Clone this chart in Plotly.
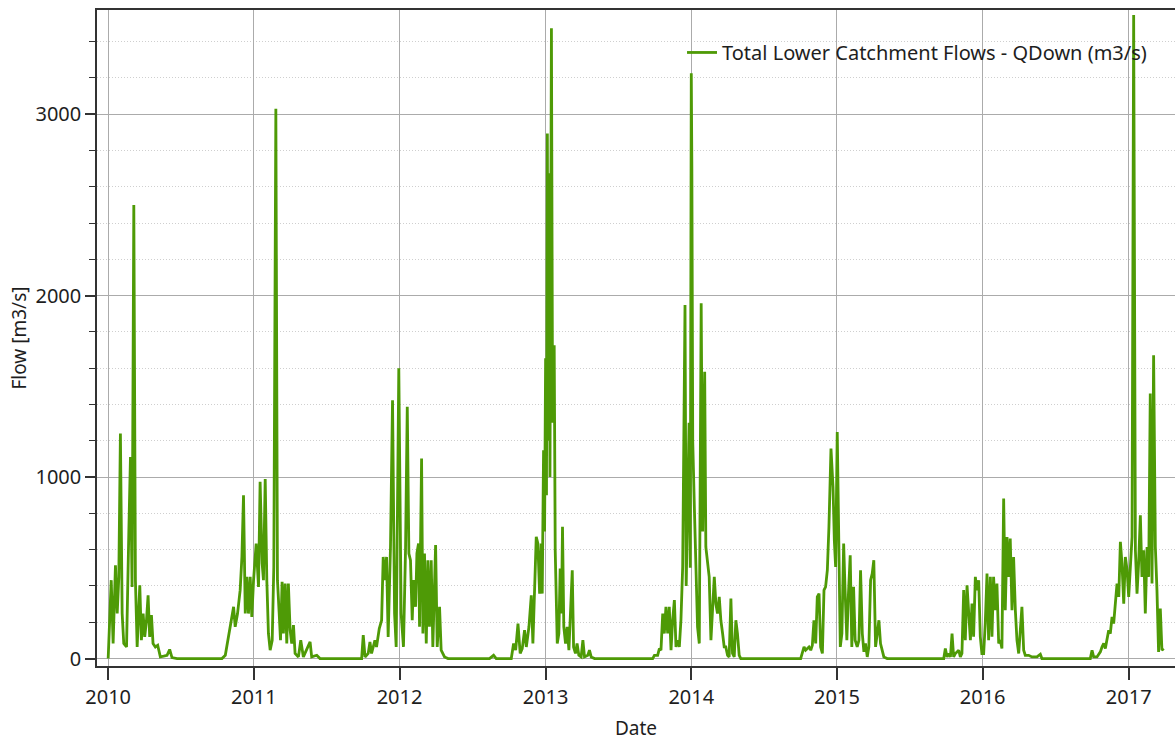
import pandas as pd
import plotly.graph_objects as go

# Total lower-catchment flow (m3/s), read per wet season.
# Times are decimal years; each season starts and ends on the dry-season base flow of 0.
t_0910 = [2010.000, 2010.021, 2010.034, 2010.050, 2010.062, 2010.073, 2010.084, 2010.096, 2010.107, 2010.126,
          2010.142, 2010.153, 2010.164, 2010.176, 2010.187, 2010.199, 2010.217, 2010.228, 2010.240, 2010.251,
          2010.263, 2010.274, 2010.285, 2010.297, 2010.308, 2010.324, 2010.340, 2010.358, 2010.381, 2010.404,
          2010.422, 2010.438, 2010.473]
q_0910 = [0, 432, 83, 514, 248, 450, 1240, 248, 83, 64,
          707, 1111, 395, 2500, 432, 64, 404, 101, 248, 119,
          211, 349, 119, 239, 83, 64, 73, 9, 13, 18,
          50, 5, 0]

t_1011 = [2010.781, 2010.804, 2010.826, 2010.842, 2010.861, 2010.872, 2010.888, 2010.906, 2010.918, 2010.929,
          2010.941, 2010.952, 2010.963, 2010.975, 2010.986, 2010.998, 2011.016, 2011.032, 2011.043, 2011.057,
          2011.066, 2011.078, 2011.089, 2011.100, 2011.112, 2011.126, 2011.137, 2011.151, 2011.162, 2011.174,
          2011.183, 2011.194, 2011.203, 2011.215, 2011.226, 2011.237, 2011.249, 2011.260, 2011.272, 2011.283,
          2011.306, 2011.322, 2011.340, 2011.386, 2011.397, 2011.432, 2011.454]
q_1011 = [0, 18, 119, 175, 285, 175, 248, 377, 560, 900,
          248, 450, 248, 450, 230, 432, 634, 395, 974, 524,
          432, 990, 432, 138, 46, 101, 505, 3030, 432, 248,
          101, 423, 138, 413, 83, 413, 156, 83, 184, 28,
          9, 101, 9, 92, 9, 18, 0]

t_1112 = [2011.740, 2011.751, 2011.763, 2011.785, 2011.797, 2011.808, 2011.831, 2011.842, 2011.861, 2011.877,
          2011.888, 2011.900, 2011.911, 2011.922, 2011.938, 2011.952, 2011.966, 2011.977, 2011.995, 2012.011,
          2012.027, 2012.041, 2012.053, 2012.064, 2012.075, 2012.087, 2012.096, 2012.110, 2012.119, 2012.130,
          2012.137, 2012.151, 2012.160, 2012.171, 2012.183, 2012.194, 2012.205, 2012.217, 2012.228, 2012.247,
          2012.258, 2012.274, 2012.285, 2012.308, 2012.332, 2012.616, 2012.644, 2012.662]
q_1112 = [0, 129, 9, 28, 92, 28, 101, 64, 165, 211,
          560, 432, 560, 119, 615, 1424, 248, 64, 1600, 248,
          64, 597, 1387, 579, 542, 211, 432, 285, 579, 634,
          175, 1102, 138, 579, 83, 542, 175, 542, 64, 625,
          64, 285, 46, 9, 0, 0, 18, 0]

t_1213 = [2012.765, 2012.781, 2012.795, 2012.811, 2012.826, 2012.840, 2012.856, 2012.868, 2012.886, 2012.902,
          2012.913, 2012.925, 2012.936, 2012.947, 2012.959, 2012.970, 2012.977, 2012.986, 2012.993, 2013.000,
          2013.006, 2013.012, 2013.018, 2013.024, 2013.030, 2013.040, 2013.048, 2013.059, 2013.066, 2013.080,
          2013.091, 2013.100, 2013.109, 2013.116, 2013.125, 2013.137, 2013.148, 2013.160, 2013.171, 2013.183,
          2013.192, 2013.205, 2013.216, 2013.228, 2013.244, 2013.256, 2013.267, 2013.290, 2013.301, 2013.313,
          2013.336]
q_1213 = [0, 83, 46, 193, 28, 55, 156, 64, 175, 349,
          83, 358, 671, 634, 358, 634, 358, 1148, 700, 1655,
          900, 2894, 1200, 2675, 1000, 3473, 1300, 1727, 597, 83,
          138, 496, 248, 726, 175, 83, 175, 46, 248, 487,
          64, 28, 83, 18, 9, 101, 9, 18, 46, 9,
          0]

t_1314 = [2013.735, 2013.747, 2013.769, 2013.781, 2013.792, 2013.804, 2013.815, 2013.826, 2013.838, 2013.849,
          2013.861, 2013.872, 2013.884, 2013.895, 2013.906, 2013.918, 2013.929, 2013.941, 2013.957, 2013.965,
          2013.975, 2013.985, 2013.993, 2014.000, 2014.004, 2014.010, 2014.021, 2014.032, 2014.043, 2014.055,
          2014.068, 2014.078, 2014.092, 2014.100, 2014.112, 2014.123, 2014.135, 2014.146, 2014.158, 2014.169,
          2014.180, 2014.192, 2014.203, 2014.215, 2014.226, 2014.237, 2014.249, 2014.260, 2014.272, 2014.283,
          2014.295, 2014.306, 2014.317, 2014.329, 2014.340]
q_1314 = [0, 18, 18, 55, 46, 248, 138, 285, 138, 285,
          46, 211, 322, 64, 101, 64, 211, 505, 1948, 400,
          900, 1300, 500, 3225, 2703, 1200, 836, 468, 175, 83,
          1958, 700, 1580, 615, 542, 450, 101, 285, 450, 300,
          248, 340, 211, 138, 64, 64, 18, 9, 331, 28,
          9, 211, 138, 18, 0]

t_1415 = [2014.751, 2014.763, 2014.774, 2014.785, 2014.797, 2014.808, 2014.820, 2014.831, 2014.842, 2014.854,
          2014.865, 2014.877, 2014.888, 2014.900, 2014.911, 2014.922, 2014.934, 2014.945, 2014.959, 2014.973,
          2014.982, 2014.991, 2015.002, 2015.014, 2015.023, 2015.034, 2015.046, 2015.055, 2015.068, 2015.079,
          2015.091, 2015.102, 2015.114, 2015.125, 2015.139, 2015.151, 2015.162, 2015.174, 2015.185, 2015.196,
          2015.208, 2015.219, 2015.231, 2015.242, 2015.253, 2015.265, 2015.276, 2015.288, 2015.299, 2015.311,
          2015.322, 2015.345]
q_1415 = [0, 28, 64, 46, 55, 64, 46, 73, 211, 83,
          340, 358, 64, 28, 377, 395, 487, 726, 1157, 946,
          651, 505, 1249, 505, 64, 138, 634, 395, 101, 358,
          569, 64, 395, 101, 64, 101, 487, 138, 37, 83,
          9, 64, 432, 468, 542, 64, 138, 211, 83, 46,
          9, 0]

t_1516 = [2015.733, 2015.744, 2015.756, 2015.767, 2015.779, 2015.790, 2015.801, 2015.813, 2015.836, 2015.847,
          2015.858, 2015.870, 2015.881, 2015.893, 2015.904, 2015.916, 2015.927, 2015.938, 2015.950, 2015.961,
          2015.973, 2015.984, 2015.995, 2016.007, 2016.018, 2016.030, 2016.041, 2016.053, 2016.064, 2016.075,
          2016.087, 2016.098, 2016.110, 2016.121, 2016.132, 2016.144, 2016.155, 2016.167, 2016.178, 2016.189,
          2016.201, 2016.212, 2016.224, 2016.235, 2016.247, 2016.258, 2016.269, 2016.281, 2016.292, 2016.315,
          2016.338, 2016.372, 2016.395, 2016.406]
q_1516 = [0, 55, 9, 28, 9, 138, 9, 28, 46, 9,
          28, 377, 101, 404, 285, 101, 303, 120, 450, 377,
          432, 120, 28, 28, 193, 468, 101, 450, 120, 450,
          266, 413, 83, 101, 55, 882, 266, 670, 450, 661,
          266, 560, 266, 101, 28, 138, 285, 46, 18, 18,
          9, 9, 24, 0]

t_1617 = [2016.737, 2016.749, 2016.760, 2016.783, 2016.806, 2016.817, 2016.829, 2016.840, 2016.852, 2016.863,
          2016.874, 2016.886, 2016.897, 2016.909, 2016.920, 2016.932, 2016.943, 2016.954, 2016.966, 2016.977,
          2016.989, 2017.000, 2017.011, 2017.023, 2017.034, 2017.046, 2017.057, 2017.068, 2017.080, 2017.091,
          2017.103, 2017.114, 2017.126, 2017.137, 2017.148, 2017.160, 2017.171, 2017.183, 2017.194, 2017.205,
          2017.217, 2017.228, 2017.240]
q_1617 = [0, 46, 9, 9, 37, 64, 83, 55, 120, 156,
          138, 230, 193, 303, 413, 340, 643, 524, 303, 560,
          487, 340, 524, 670, 3546, 597, 358, 524, 790, 450,
          597, 248, 615, 450, 1460, 413, 1672, 615, 377, 37,
          276, 46, 55]

SERIES_NAME = "Total Lower Catchment Flows - QDown (m3/s)"
LINE_COLOR = "#4e9a06"
FONT = "Noto Sans, Open Sans, DejaVu Sans, sans-serif"


def decimal_year_to_timestamp(t):
    year = int(t)
    start = pd.Timestamp(year=year, month=1, day=1)
    end = pd.Timestamp(year=year + 1, month=1, day=1)
    return start + (t - year) * (end - start)


seasons = [(t_0910, q_0910), (t_1011, q_1011), (t_1112, q_1112), (t_1213, q_1213),
           (t_1314, q_1314), (t_1415, q_1415), (t_1516, q_1516), (t_1617, q_1617)]

dates, flows = [], []
for ts, qs in seasons:
    assert len(ts) == len(qs)
    dates.extend(decimal_year_to_timestamp(t) for t in ts)
    flows.extend(qs)

fig = go.Figure()
fig.add_trace(go.Scatter(
    x=dates, y=flows, mode="lines", name=SERIES_NAME,
    line=dict(color=LINE_COLOR, width=2.8),
    showlegend=True,
))

fig.update_layout(
    width=1175, height=742,
    margin=dict(l=97, r=0, t=10, b=76),
    paper_bgcolor="white", plot_bgcolor="white",
    font=dict(family=FONT, size=20, color="#1e1e1e"),
    showlegend=True,
    legend=dict(
        x=0.5427, xanchor="left", y=0.965, yanchor="top",
        bgcolor="rgba(0,0,0,0)", borderwidth=0,
        font=dict(family=FONT, size=20, color="#1e1e1e"),
    ),
)

fig.update_xaxes(
    type="date",
    range=["2009-12-04", "2017-04-27"],
    tick0="2010-01-01", dtick="M12", tickformat="%Y",
    ticks="outside", ticklen=12, tickwidth=1.5, tickcolor="#333333",
    showline=True, linecolor="#333333", linewidth=1.5, mirror=True,
    showgrid=True, gridcolor="#ababab", gridwidth=1,
    zeroline=False,
    title=dict(text="Date", font=dict(size=19), standoff=13),
)

fig.update_yaxes(
    range=[-41, 3574],
    tick0=0, dtick=1000,
    ticks="outside", ticklen=10, tickwidth=1.5, tickcolor="#333333",
    showline=True, linecolor="#333333", linewidth=1.5,
    showgrid=True, gridcolor="#ababab", gridwidth=1,
    zeroline=False,
    minor=dict(dtick=200, tick0=0, ticks="outside", ticklen=6, tickwidth=1.2, tickcolor="#333333",
               showgrid=True, gridcolor="#cfcfcf", griddash="1px,2px", gridwidth=1),
    title=dict(text="Flow [m3/s]", font=dict(size=19), standoff=4),
)

fig.write_html("out.html")
